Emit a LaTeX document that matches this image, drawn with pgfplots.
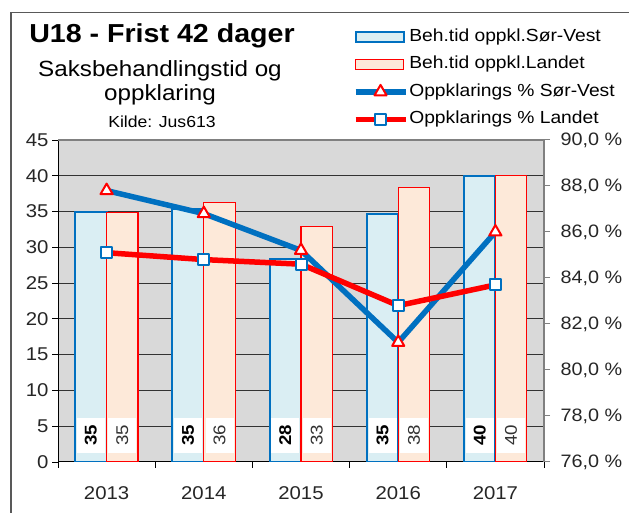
\documentclass[border=0pt]{standalone}
\usepackage{fontspec}
\setmainfont{Liberation Sans}[FakeStretch=1.1]
\usepackage{pgfplots}
\pgfplotsset{compat=1.18}
\definecolor{svblue}{HTML}{0070C0}
\definecolor{svfill}{HTML}{DAEEF3}
\definecolor{lred}{HTML}{FF0000}
\definecolor{lfill}{HTML}{FDE9D9}
\definecolor{plotbg}{HTML}{D9D9D9}
\definecolor{framecol}{HTML}{595959}
\pgfplotsset{
  barlegend/.style={legend image code/.code={\draw[##1] (0pt,-5pt) rectangle (48pt,5pt);}},
  linelegend/.style={legend image code/.code={\draw[##1, mark repeat=2, mark phase=2] plot coordinates {(0pt,0pt) (25pt,0pt) (50pt,0pt)};}},
  chartbox/.style={at={(58pt,51pt)}, anchor=south west, scale only axis,
    width=486pt, height=322pt, xmin=-0.5, xmax=4.5},
}

\begin{document}
\begin{tikzpicture}
\useasboundingbox (0pt,0pt) rectangle (629pt,513pt);
\clip (0pt,0pt) rectangle (629pt,513pt);
\draw[framecol, line width=1.3pt] (11pt,-10pt) -- (11pt,500.3pt) -- (650pt,500.3pt);

\node[anchor=base, font=\fontsize{26}{30}\selectfont\bfseries] at (162pt,470pt) {U18 - Frist 42 dager};
\node[anchor=base, font=\fontsize{22}{24}\selectfont] at (160pt,436.3pt) {Saksbehandlingstid og};
\node[anchor=base, font=\fontsize{22}{24}\selectfont] at (160pt,412pt) {oppklaring};
\node[anchor=base, font=\fontsize{16}{18}\selectfont] at (162pt,385pt) {Kilde: Jus613};

% left axis: case processing time (bars)
\begin{axis}[chartbox,
  ymin=0, ymax=45,
  axis x line*=bottom, axis y line*=left,
  axis background/.style={fill=plotbg},
  axis line style={black, line width=1pt},
  tick align=outside, major tick length=6pt,
  tick style={black, line width=0.8pt},
  ytick={0,5,...,45},
  ymajorgrids, grid style={black!80, line width=1pt},
  xtick={-0.5,0.5,...,4.5}, x tick label as interval,
  xticklabels={2013,2014,2015,2016,2017},
  /pgf/number format/assume math mode=true,
  ticklabel style={font=\fontsize{18.5}{18.5}\selectfont, text=black!85},
  xticklabel style={yshift=-15pt},
]
\addplot[ybar, bar width=0.323, bar shift=-0.1615, fill=svfill, draw=svblue, line width=2pt]
  coordinates {(0,34.9) (1,35.3) (2,28.4) (3,34.6) (4,40.0)};
\addplot[ybar, bar width=0.323, bar shift=0.1615, fill=lfill, draw=lred, line width=1.2pt]
  coordinates {(0,34.9) (1,36.3) (2,32.9) (3,38.4) (4,40.0)};
% value boxes at the foot of the bars
\addplot[draw=none, nodes near coords, point meta=explicit symbolic,
  nodes near coords style={anchor=center, rotate=90, fill=white, inner sep=0pt,
    minimum width=35pt, minimum height=28pt, text=black,
    font=\fontsize{17}{17}\selectfont\bfseries}]
  coordinates {(-0.1615,3.7)[35] (0.8385,3.7)[35] (1.8385,3.7)[28] (2.8385,3.7)[35] (3.8385,3.7)[40]};
\addplot[draw=none, nodes near coords, point meta=explicit symbolic,
  nodes near coords style={anchor=center, rotate=90, fill=white, inner sep=0pt,
    minimum width=35pt, minimum height=28pt, text=black!80,
    font=\fontsize{17}{17}\selectfont}]
  coordinates {(0.1615,3.7)[35] (1.1615,3.7)[36] (2.1615,3.7)[33] (3.1615,3.7)[38] (4.1615,3.7)[40]};
\end{axis}

% right axis: clearance rate (lines)
\begin{axis}[chartbox,
  ymin=76, ymax=90,
  axis x line*=top, axis y line*=right, xtick=\empty,
  axis line style={black!50, line width=2.2pt},
  tick align=outside, major tick length=6pt,
  ytick style={black!50, line width=1pt},
  ytick={76,78,...,90},
  yticklabels={76{,}0 \%,78{,}0 \%,80{,}0 \%,82{,}0 \%,84{,}0 \%,86{,}0 \%,88{,}0 \%,90{,}0 \%},
  yticklabel style={font=\fontsize{18}{18}\selectfont, text=black!85, xshift=7pt},
  legend style={at={(0.6,1.355)}, anchor=north west, draw=none, fill=none,
    font=\fontsize{17.5}{17.5}\selectfont, row sep=9.5pt, legend cell align=left,
    nodes={inner sep=1pt, text height=12.5pt, text depth=3.5pt}},
]
\addlegendimage{barlegend, fill=svfill, draw=svblue, line width=2pt}
\addlegendimage{barlegend, fill=lfill, draw=lred, line width=1.2pt}
\addplot[svblue, line width=5.5pt, line join=round, mark=triangle*, mark size=7pt,
  mark options={fill=white, draw=red, line width=2pt}, linelegend]
  coordinates {(0,87.8) (1,86.8) (2,85.2) (3,81.2) (4,86.0)};
\addplot[red, line width=5.5pt, line join=round, mark=square*, mark size=5.5pt,
  mark options={fill=white, draw=svblue, line width=2pt}, linelegend]
  coordinates {(0,85.1) (1,84.8) (2,84.6) (3,82.8) (4,83.7)};
\legend{Beh.tid oppkl.Sør-Vest, Beh.tid oppkl.Landet, Oppklarings \% Sør-Vest, Oppklarings \% Landet}
\end{axis}
\end{tikzpicture}
\end{document}
